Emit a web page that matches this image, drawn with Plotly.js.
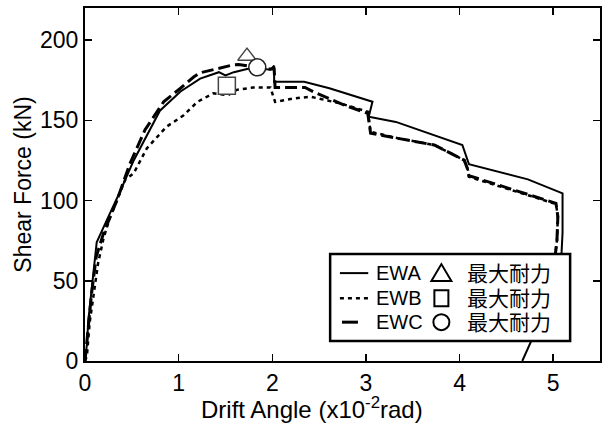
<!DOCTYPE html>
<html>
<head>
<meta charset="utf-8">
<script src="https://cdn.plot.ly/plotly-3.0.1.min.js"></script>
<style>html,body{margin:0;padding:0;background:#fff;}#chart{width:609px;height:423px;}</style>
</head>
<body>
<div id="chart"></div>
<script>
// Series names
const seriesNames = ['EWA', 'EWB', 'EWC'];
const peakLabel = '最大耐力';
const xTitle = 'Drift Angle (x10<sup>-2</sup>rad)';
const yTitle = 'Shear Force (kN)';

// EWA (solid)
const ewaX = [0, 0.02, 0.035, 0.07, 0.10, 0.125, 0.25, 0.37, 0.52, 0.80, 1.02, 1.23, 1.43, 1.50, 1.59, 1.73, 1.84, 1.98, 2.02, 2.02, 2.34, 2.61, 3.07, 3.03, 3.32, 4.03, 4.10, 4.73, 5.10, 5.10, 5.09, 5.05, 4.90, 4.73, 4.67];
const ewaY = [0, 10, 25, 45, 62, 74, 90, 105, 125, 156, 168, 176, 180, 178, 180, 182, 182.5, 181.5, 184, 174, 174, 170, 161.6, 152.2, 149, 134.6, 122.7, 113.2, 104.5, 80, 68, 55, 30, 8, 0];

// EWB (dotted)
const ewbX = [0, 0.02, 0.05, 0.09, 0.14, 0.20, 0.27, 0.34, 0.43, 0.52, 0.66, 0.87, 1.05, 1.20, 1.37, 1.53, 1.62, 1.80, 1.98, 2.03, 2.23, 2.41, 2.73, 3.02, 3.05, 3.34, 3.73, 4.05, 4.09, 4.10, 4.51, 4.76, 5.03, 5.05, 5.04, 5.02];
const ewbY = [0, 3, 24, 42, 61, 77, 90, 100, 113, 117, 132.5, 146, 153, 161.5, 166.8, 165.7, 169, 170.5, 170.5, 161.5, 163.6, 164.7, 160.5, 155.3, 142.9, 138.8, 134.6, 125.2, 119, 114.8, 107.6, 102.8, 97.8, 90, 75, 65];

// EWC (long dash)
const ewcX = [0, 0.03, 0.07, 0.12, 0.20, 0.34, 0.48, 0.64, 0.84, 1.02, 1.16, 1.23, 1.48, 1.57, 1.64, 1.84, 1.97, 2.02, 2.03, 2.35, 2.44, 2.77, 3.02, 3.05, 3.34, 3.73, 4.05, 4.09, 4.10, 4.51, 4.76, 5.03, 5.05, 5.04, 5.02];
const ewcY = [0, 20, 42, 65, 80, 100, 123, 144, 161.5, 170, 177, 179.6, 183.4, 184.4, 184.8, 183, 182, 182, 170.5, 170.5, 167.8, 159.5, 154.3, 141.9, 138.8, 134.6, 125.2, 119, 115.5, 108, 103.3, 98.3, 90, 75, 65];

// Peak (maximum strength) points
const peakX = [1.73, 1.515, 1.84];
const peakY = [190, 171.5, 183];

const xTickVals = [0, 1, 2, 3, 4, 5];
const yTickVals = [0, 50, 100, 150, 200];

const FONT = 'Liberation Sans, Arial, sans-serif';
const CJK = 'Liberation Sans, Noto Sans CJK JP, Noto Sans CJK SC, sans-serif';

const traces = [
  {x: ewbX, y: ewbY, mode: 'lines', name: seriesNames[1], line: {color: '#000', width: 2.5, dash: '4px,4px'}, showlegend: false},
  {x: ewcX, y: ewcY, mode: 'lines', name: seriesNames[2], line: {color: '#000', width: 3, dash: '12px,5px'}, showlegend: false},
  {x: ewaX, y: ewaY, mode: 'lines', name: seriesNames[0], line: {color: '#000', width: 2}, showlegend: false},
  {x: [peakX[0]], y: [peakY[0]], mode: 'markers', marker: {symbol: 'triangle-up', size: 16, color: '#fff', line: {color: '#444', width: 1.5}}, showlegend: false},
  {x: [peakX[1]], y: [peakY[1]], mode: 'markers', marker: {symbol: 'square', size: 17, color: '#fff', line: {color: '#444', width: 1.5}}, showlegend: false},
  {x: [peakX[2]], y: [peakY[2]], mode: 'markers', marker: {symbol: 'circle', size: 17, color: '#fff', line: {color: '#222', width: 1.5}}, showlegend: false}
];

// Manual legend (paper coords)
const rowY = [0.249, 0.178, 0.110];
const shapes = [
  {type: 'rect', xref: 'paper', yref: 'paper', x0: 0.476, x1: 0.942, y0: 0.057, y1: 0.303, line: {color: '#000', width: 2.5}, fillcolor: '#fff', layer: 'above'},
  {type: 'line', xref: 'paper', yref: 'paper', x0: 0.495, x1: 0.550, y0: rowY[0], y1: rowY[0], line: {color: '#000', width: 2}, layer: 'above'},
  {type: 'line', xref: 'paper', yref: 'paper', x0: 0.495, x1: 0.552, y0: rowY[1], y1: rowY[1], line: {color: '#000', width: 2.5, dash: '4px,4px'}, layer: 'above'},
  {type: 'line', xref: 'paper', yref: 'paper', x0: 0.499, x1: 0.530, y0: rowY[2], y1: rowY[2], line: {color: '#000', width: 3}, layer: 'above'},
  {type: 'path', xref: 'paper', yref: 'paper', xsizemode: 'pixel', ysizemode: 'pixel', xanchor: 0.692, yanchor: rowY[0], path: 'M-10,-8 L10,-8 L0,9 Z', line: {color: '#000', width: 2}, fillcolor: 'rgba(0,0,0,0)', layer: 'above'},
  {type: 'rect', xref: 'paper', yref: 'paper', xsizemode: 'pixel', ysizemode: 'pixel', xanchor: 0.692, yanchor: rowY[1], x0: -7, x1: 7, y0: -8, y1: 8, line: {color: '#000', width: 2}, layer: 'above'},
  {type: 'circle', xref: 'paper', yref: 'paper', xsizemode: 'pixel', ysizemode: 'pixel', xanchor: 0.692, yanchor: rowY[2], x0: -8, x1: 8, y0: -8, y1: 8, line: {color: '#000', width: 2}, layer: 'above'}
];
const annotations = [];
for (let i = 0; i < 3; i++) {
  annotations.push({xref: 'paper', yref: 'paper', x: 0.563, y: rowY[i], xanchor: 'left', yanchor: 'middle', text: seriesNames[i], showarrow: false, borderpad: 0, font: {family: FONT, size: 20, color: '#000'}});
  annotations.push({xref: 'paper', yref: 'paper', x: 0.740, y: rowY[i], xanchor: 'left', yanchor: 'middle', text: peakLabel, showarrow: false, borderpad: 0, font: {family: CJK, size: 21, color: '#000'}});
}
annotations.push({xref: 'paper', yref: 'paper', x: 0.441, y: -0.133, xanchor: 'center', yanchor: 'middle', text: xTitle, showarrow: false, font: {family: FONT, size: 24, color: '#000'}});

const layout = {
  width: 609, height: 423,
  margin: {l: 85, r: 9, t: 8, b: 62},
  paper_bgcolor: '#fff', plot_bgcolor: '#fff',
  font: {family: FONT, color: '#000'},
  showlegend: false,
  xaxis: {
    range: [0, 5.5], tickvals: xTickVals, ticks: 'inside', ticklen: 7, tickwidth: 1.5, tickcolor: '#000',
    showline: true, linewidth: 2, linecolor: '#000', mirror: 'ticks', showgrid: false, zeroline: false,
    tickfont: {family: FONT, size: 23, color: '#000'}
  },
  yaxis: {
    range: [0, 220], tickvals: yTickVals, ticks: 'inside', ticklen: 7, tickwidth: 1.5, tickcolor: '#000',
    showline: true, linewidth: 2, linecolor: '#000', mirror: 'ticks', showgrid: false, zeroline: false,
    tickfont: {family: FONT, size: 23, color: '#000'},
    title: {text: yTitle, font: {family: FONT, size: 23, color: '#000'}, standoff: 2}
  },
  shapes: shapes,
  annotations: annotations
};

Plotly.newPlot('chart', traces, layout, {displayModeBar: false, staticPlot: true});
</script>
</body>
</html>
